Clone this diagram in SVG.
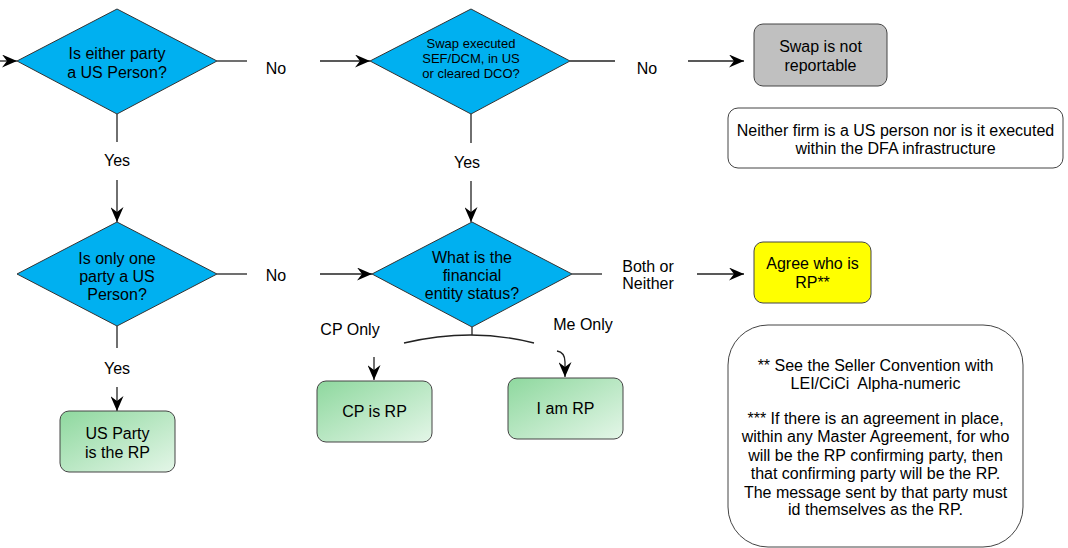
<svg xmlns="http://www.w3.org/2000/svg" width="1068" height="548" viewBox="0 0 1068 548">
<defs>
<marker id="arr" markerUnits="userSpaceOnUse" markerWidth="16" markerHeight="13" refX="15" refY="6.5" orient="auto">
<path d="M0,0 L15,6.5 L0,13 L5,6.5 z" fill="#000"/>
</marker>
<linearGradient id="grn" x1="0" y1="0" x2="1" y2="1">
<stop offset="0" stop-color="#8ed89e"/>
<stop offset="1" stop-color="#e4f6e8"/>
</linearGradient>
<style>
text{font-family:"Liberation Sans",Arial,sans-serif;font-size:16px;fill:#000;text-anchor:middle}
.sm{font-size:13px}
.dia{fill:#00b0f0;stroke:#333;stroke-width:1}
.box{stroke:#444;stroke-width:1}
.g{fill:url(#grn)}
.w{fill:#fff}
#connectors path{fill:none;stroke:#222;stroke-width:1.3}
#connectors .a{marker-end:url(#arr)}
</style>
</defs>
<rect width="1068" height="548" fill="#fff"/>
<g id="connectors">
<path class="a" d="M0,61 H17"/>
<path d="M217,61 H247"/>
<path class="a" d="M320,61 H370"/>
<path d="M117,114 V142"/>
<path class="a" d="M117,180 V222"/>
<path d="M570,61 H615"/>
<path class="a" d="M688,61 H744"/>
<path d="M471,114 V143"/>
<path class="a" d="M471,181 V222"/>
<path d="M217,274 H247"/>
<path class="a" d="M320,274 H372"/>
<path d="M117,326 V348"/>
<path class="a" d="M117,387 V411"/>
<path d="M572,274 H602"/>
<path class="a" d="M697,274 H744"/>
<path d="M472,327 V335"/>
<path d="M404,343 Q472,327 534,343"/>
<path class="a" d="M374,357 V380"/>
<path class="a" d="M557,351 C563,352 565,356 565,362 V377"/>
</g>
<g id="labels">
<text x="276" y="74">No</text>
<text x="117" y="166">Yes</text>
<text x="647" y="74">No</text>
<text x="467" y="168">Yes</text>
<text x="276" y="281">No</text>
<text x="117" y="374">Yes</text>
<text x="648" y="272">Both or</text>
<text x="648" y="289">Neither</text>
<text x="350" y="335">CP Only</text>
<text x="583" y="330">Me Only</text>
</g>
<g id="n1">
<polygon class="dia" points="117,9 217,61 117,114 17,61"/>
<text x="117" y="59">Is either party</text>
<text x="117" y="78">a US Person?</text>
</g>
<g id="n2">
<polygon class="dia" points="471,9 570,61 471,114 370,61"/>
<text class="sm" x="471" y="48">Swap executed</text>
<text class="sm" x="471" y="63">SEF/DCM, in US</text>
<text class="sm" x="471" y="78">or cleared DCO?</text>
</g>
<g id="n3">
<rect class="box" x="754" y="24" width="133" height="62" rx="9" fill="#c0c0c0"/>
<text x="820.5" y="52">Swap is not</text>
<text x="820.5" y="71">reportable</text>
</g>
<g id="n4">
<rect class="box w" x="728" y="108" width="335" height="60" rx="10"/>
<text x="895.5" y="136">Neither firm is a US person nor is it executed</text>
<text x="895.5" y="154">within the DFA infrastructure</text>
</g>
<g id="n5">
<polygon class="dia" points="117,222 217,274 117,326 17,274"/>
<text x="117" y="264">Is only one</text>
<text x="117" y="282">party a US</text>
<text x="117" y="300">Person?</text>
</g>
<g id="n6">
<polygon class="dia" points="472,222 572,274 472,327 372,274"/>
<text x="472" y="263">What is the</text>
<text x="472" y="281">financial</text>
<text x="472" y="299">entity status?</text>
</g>
<g id="n7">
<rect class="box" x="754" y="242" width="117" height="61" rx="9" fill="#ffff00"/>
<text x="812.5" y="269">Agree who is</text>
<text x="812.5" y="288">RP**</text>
</g>
<g id="n8">
<rect class="box g" x="60" y="411" width="115" height="61" rx="9"/>
<text x="117.5" y="439">US Party</text>
<text x="117.5" y="458">is the RP</text>
</g>
<g id="n9">
<rect class="box g" x="317" y="381" width="115" height="61" rx="9"/>
<text x="374.5" y="417">CP is RP</text>
</g>
<g id="n10">
<rect class="box g" x="508" y="378" width="115" height="61" rx="9"/>
<text x="565.5" y="414">I am RP</text>
</g>
<g id="n11">
<rect class="box w" x="728" y="325" width="295" height="222" rx="40"/>
<text x="875.5" y="371">** See the Seller Convention with</text>
<text x="875.5" y="389" xml:space="preserve">LEI/CiCi  Alpha-numeric</text>
<text x="875.5" y="424">*** If there is an agreement in place,</text>
<text x="875.5" y="442">within any Master Agreement, for who</text>
<text x="875.5" y="460.5">will be the RP confirming party, then</text>
<text x="875.5" y="479">that confirming party will be the RP.</text>
<text x="875.5" y="497.5">The message sent by that party must</text>
<text x="875.5" y="515">id themselves as the RP.</text>
</g>
</svg>
